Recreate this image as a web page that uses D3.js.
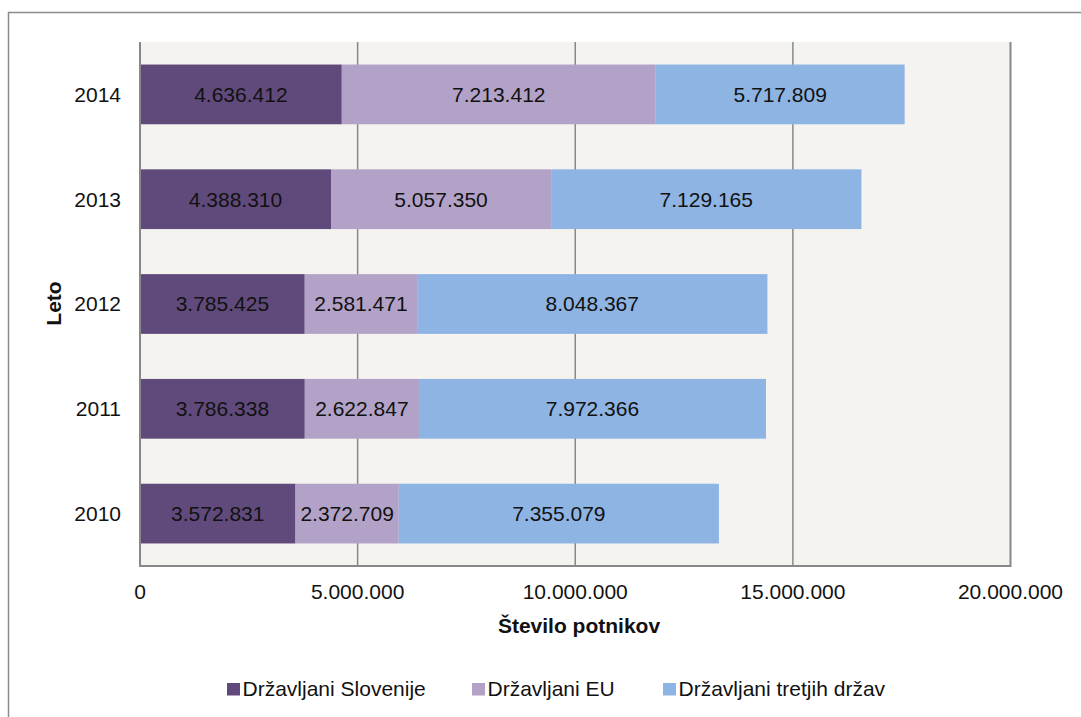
<!DOCTYPE html>
<html>
<head>
<meta charset="utf-8">
<script src="https://cdn.jsdelivr.net/npm/d3@7"></script>
<style>
  body { margin: 0; background: #fff; }
  svg { font-family: "Liberation Sans", Arial, sans-serif; }
</style>
</head>
<body>
<div id="chart"></div>
<script>
const years = ['2014', '2013', '2012', '2011', '2010'];
const series = ['Državljani Slovenije', 'Državljani EU', 'Državljani tretjih držav'];
const slovenia = [4636412, 4388310, 3785425, 3786338, 3572831];
const eu = [7213412, 5057350, 2581471, 2622847, 2372709];
const third = [5717809, 7129165, 8048367, 7972366, 7355079];
const xTicks = [0, 5000000, 10000000, 15000000, 20000000];
const colors = ['#604a7b', '#b3a2c7', '#8eb4e3'];

const width = 1081, height = 717;
const margin = {left: 140, top: 42, right: 1010.5, bottom: 566};

// thousands separator is a dot
const fmt = n => d3.format(',')(n).replace(/,/g, '.');

const rows = years.map((y, i) => ({year: y, vals: [slovenia[i], eu[i], third[i]]}));

const svg = d3.select('#chart').append('svg')
  .attr('width', width)
  .attr('height', height);

// outer frame
svg.append('rect')
  .attr('x', 8.5).attr('y', 12.5)
  .attr('width', 1080).attr('height', 720)
  .attr('fill', 'none').attr('stroke', '#8c8c8c').attr('stroke-width', 1.5);

const x = d3.scaleLinear().domain([0, 20000000]).range([margin.left, margin.right]);
const y = d3.scaleBand().domain(years).range([margin.top, margin.bottom]).paddingInner(0.43).paddingOuter(0.215);

// plot area background
svg.append('rect')
  .attr('x', margin.left).attr('y', margin.top)
  .attr('width', margin.right - margin.left).attr('height', margin.bottom - margin.top)
  .attr('fill', '#f4f3ef');

// gridlines
svg.append('g')
  .selectAll('line')
  .data(xTicks.slice(1, -1))
  .enter().append('line')
  .attr('x1', d => x(d)).attr('x2', d => x(d))
  .attr('y1', margin.top).attr('y2', margin.bottom)
  .attr('stroke', '#888').attr('stroke-width', 1.5);

// stacked bars
const stack = d3.stack().keys([0, 1, 2]).value((d, k) => d.vals[k]);
const stacked = stack(rows);

const layer = svg.append('g').selectAll('g')
  .data(stacked)
  .enter().append('g')
  .attr('fill', (d, i) => colors[i]);

layer.selectAll('rect')
  .data(d => d)
  .enter().append('rect')
  .attr('x', d => x(d[0]))
  .attr('width', d => x(d[1]) - x(d[0]))
  .attr('y', d => y(d.data.year))
  .attr('height', y.bandwidth());

layer.selectAll('text')
  .data(d => d)
  .enter().append('text')
  .attr('x', d => (x(d[0]) + x(d[1])) / 2)
  .attr('y', d => y(d.data.year) + y.bandwidth() / 2)
  .attr('dy', '0.35em')
  .attr('text-anchor', 'middle')
  .attr('fill', '#111')
  .style('font-size', '21px')
  .text(d => fmt(d[1] - d[0]));

// plot frame: left, right and bottom
svg.append('path')
  .attr('d', `M${margin.left},${margin.top}V${margin.bottom}H${margin.right}V${margin.top}`)
  .attr('fill', 'none').attr('stroke', '#888').attr('stroke-width', 2);

// y tick labels
svg.append('g')
  .selectAll('text')
  .data(years)
  .enter().append('text')
  .attr('x', 121)
  .attr('y', d => y(d) + y.bandwidth() / 2)
  .attr('dy', '0.35em')
  .attr('text-anchor', 'end')
  .style('font-size', '21px')
  .attr('fill', '#111')
  .text(d => d);

// x tick labels
svg.append('g')
  .selectAll('text')
  .data(xTicks)
  .enter().append('text')
  .attr('x', d => x(d))
  .attr('y', 599)
  .attr('text-anchor', 'middle')
  .style('font-size', '21px')
  .attr('fill', '#111')
  .text(d => fmt(d));

// axis titles
svg.append('text')
  .attr('x', 579)
  .attr('y', 633)
  .attr('text-anchor', 'middle')
  .style('font-size', '21px')
  .style('font-weight', 'bold')
  .attr('fill', '#111')
  .text('Število potnikov');

svg.append('text')
  .attr('transform', 'translate(60.5,303.5) rotate(-90)')
  .attr('text-anchor', 'middle')
  .style('font-size', '21px')
  .style('font-weight', 'bold')
  .attr('fill', '#111')
  .text('Leto');

// legend
const legendX = [227, 472, 663];
const legend = svg.append('g').selectAll('g')
  .data(series)
  .enter().append('g')
  .attr('transform', (d, i) => `translate(${legendX[i]},696)`);

legend.append('rect')
  .attr('x', 0).attr('y', -13)
  .attr('width', 13).attr('height', 12.5)
  .attr('fill', (d, i) => colors[i]);

legend.append('text')
  .attr('x', 15.5)
  .style('font-size', '21px')
  .attr('fill', '#111')
  .text(d => d);
</script>
</body>
</html>
